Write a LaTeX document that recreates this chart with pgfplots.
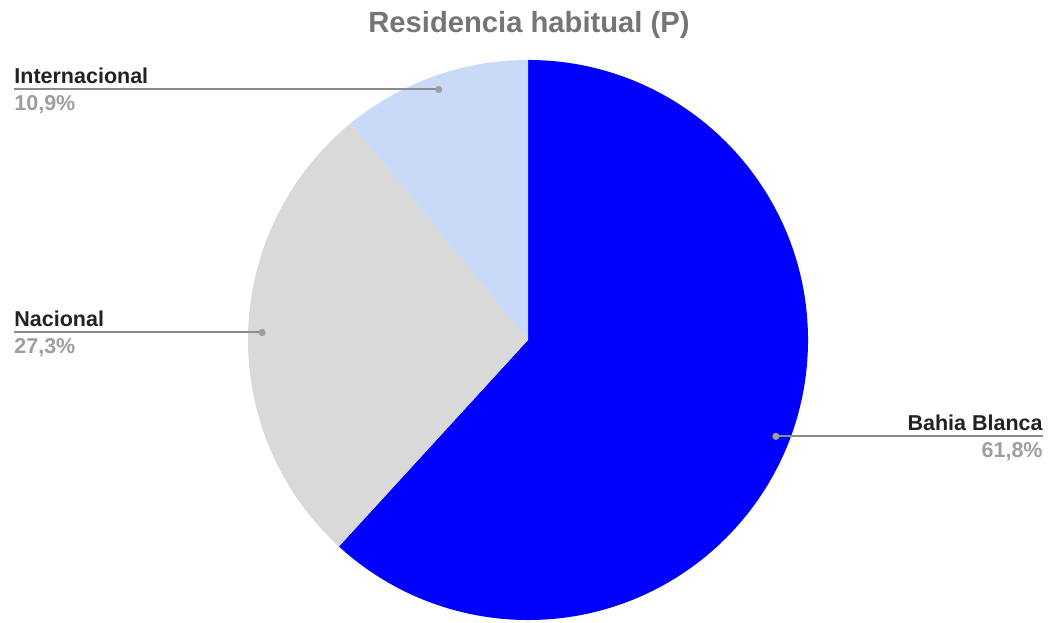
\documentclass[border=0pt]{standalone}
\usepackage{fontspec}
\setmainfont{Liberation Sans}
\usepackage{pgfplots}
\pgfplotsset{compat=1.18}
\usepackage{pgfplotstable}

\definecolor{pieblue}{HTML}{0000FF}
\definecolor{piegray}{HTML}{D9D9D9}
\definecolor{pielight}{HTML}{C9DAF8}
\definecolor{titlegray}{HTML}{757575}
\definecolor{namecol}{HTML}{222222}
\definecolor{pctcol}{HTML}{9E9E9E}
\definecolor{leadcol}{HTML}{8C8C8C}

% slices, clockwise from 12 o'clock
\pgfplotstableread[col sep=comma]{
label,value,color
Bahia Blanca,61.8,pieblue
Nacional,27.3,piegray
Internacional,10.9,pielight
}\piedata

\begin{document}
\begin{tikzpicture}
\begin{axis}[
    x=0.5bp, y=0.5bp,
    xmin=0, xmax=1049, ymin=0, ymax=622,
    hide axis, clip=false,
]
\path (axis cs:0,0) rectangle (axis cs:1049,622);
\node[font=\bfseries\fontsize{14.6bp}{16bp}\selectfont, text=titlegray, anchor=base]
    at (axis cs:529,589) {Residencia habitual (P)};

\pgfkeys{/pgf/number format/.cd, fixed, fixed zerofill, precision=1, use comma, assume math mode=true}
\pgfplotstablegetrowsof{\piedata}
\pgfmathtruncatemacro\nrows{\pgfplotsretval-1}
\def\cumangle{90}
\def\lblfont{\noexpand\bfseries\noexpand\fontsize{10.75bp}{12bp}\noexpand\selectfont}
\pgfplotsforeachungrouped \i in {0,...,\nrows}{%
  \pgfplotstablegetelem{\i}{value}\of\piedata \let\val\pgfplotsretval
  \pgfplotstablegetelem{\i}{color}\of\piedata \let\col\pgfplotsretval
  \pgfplotstablegetelem{\i}{label}\of\piedata \let\lab\pgfplotsretval
  \pgfmathprintnumberto{\val}{\pct}%
  \pgfmathsetmacro\endangle{\cumangle-3.6*\val}%
  \pgfmathsetmacro\midangle{(\cumangle+\endangle)/2}%
  \pgfmathsetmacro\dx{528+266*cos(\midangle)}%
  \pgfmathsetmacro\dy{282+266*sin(\midangle)}%
  \pgfmathsetmacro\ny{\dy+6}%
  \pgfmathsetmacro\py{\dy-21}%
  \pgfmathtruncatemacro\side{cos(\midangle)>0}%
  \edef\temp{\noexpand\fill[\col] (axis cs:528,282)
      -- ++(\cumangle:140bp) arc[start angle=\cumangle, end angle=\endangle, radius=140bp] -- cycle;}%
  \temp
  \ifnum\side=1
    \edef\temp{\noexpand\draw[leadcol, line width=1bp] (axis cs:\dx,\dy) -- (axis cs:1043,\dy);
      \noexpand\node[font=\lblfont, text=namecol, anchor=base east, inner sep=0pt]
        at (axis cs:1043,\ny) {\unexpanded\expandafter{\lab}};
      \noexpand\node[font=\lblfont, text=pctcol, anchor=base east, inner sep=0pt]
        at (axis cs:1043,\py) {\unexpanded\expandafter{\pct}\noexpand\%};}%
  \else
    \edef\temp{\noexpand\draw[leadcol, line width=1bp] (axis cs:\dx,\dy) -- (axis cs:14,\dy);
      \noexpand\node[font=\lblfont, text=namecol, anchor=base west, inner sep=0pt]
        at (axis cs:14,\ny) {\unexpanded\expandafter{\lab}};
      \noexpand\node[font=\lblfont, text=pctcol, anchor=base west, inner sep=0pt]
        at (axis cs:14,\py) {\unexpanded\expandafter{\pct}\noexpand\%};}%
  \fi
  \temp
  \edef\temp{\noexpand\fill[pctcol] (axis cs:\dx,\dy) circle[radius=1.8bp];}%
  \temp
  \let\cumangle\endangle
}
\end{axis}
\end{tikzpicture}
\end{document}
